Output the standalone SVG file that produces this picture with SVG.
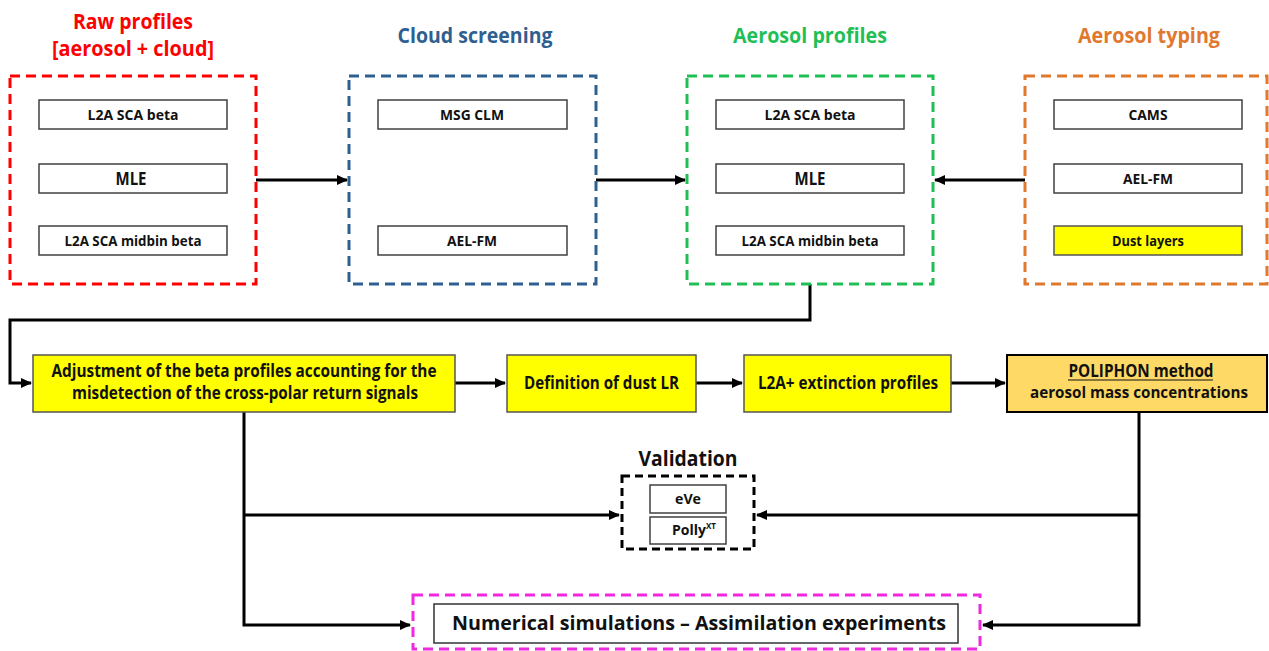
<svg xmlns="http://www.w3.org/2000/svg" width="1269" height="651" viewBox="0 0 1269 651">
<defs>
<style>
text{font-family:"Open Sans","Liberation Sans",sans-serif;font-weight:bold;text-anchor:middle;fill:#111}
.title{font-size:21px}
.inner{font-size:14px}
.big{font-size:17px}
.mid{font-size:17px}
.grp{fill:none;stroke-width:3;stroke-dasharray:10 6}
.ib{fill:#fff;stroke:#404040;stroke-width:1.5}
.yb{fill:#ffff00;stroke:#555;stroke-width:1.5}
.conn path{fill:none;stroke:#000;stroke-width:3}
</style>
<marker id="ah" markerUnits="userSpaceOnUse" markerWidth="12" markerHeight="10" refX="10" refY="5" orient="auto">
<path d="M0,0 L11,5 L0,10 z" fill="#000"/>
</marker>
</defs>
<rect width="1269" height="651" fill="#fff"/>

<g class="conn" id="connectors">
<path d="M256,180 H347" marker-end="url(#ah)"/>
<path d="M596,180 H685" marker-end="url(#ah)"/>
<path d="M1025,180 H935" marker-end="url(#ah)"/>
<path d="M810,284 V320 H10 V383 H31" marker-end="url(#ah)"/>
<path d="M455,383 H505" marker-end="url(#ah)"/>
<path d="M696,383 H742" marker-end="url(#ah)"/>
<path d="M951,383 H1005" marker-end="url(#ah)"/>
<path d="M244,412 V625 H410" marker-end="url(#ah)"/>
<path d="M244,515 H619" marker-end="url(#ah)"/>
<path d="M1139,412 V625 H983" marker-end="url(#ah)"/>
<path d="M1139,515 H757" marker-end="url(#ah)"/>
</g>

<g id="raw-profiles">
<text class="title" x="133" y="29" style="fill:#ff0000" textLength="120" lengthAdjust="spacingAndGlyphs">Raw profiles</text>
<text class="title" x="133" y="56" style="fill:#ff0000" textLength="162" lengthAdjust="spacingAndGlyphs">[aerosol + cloud]</text>
<rect class="grp" x="10" y="76" width="246" height="208" stroke="#ff0000"/>
<rect class="ib" x="39" y="100" width="188" height="29"/>
<text class="inner" x="133" y="120" textLength="91" lengthAdjust="spacingAndGlyphs">L2A SCA beta</text>
<rect class="ib" x="39" y="164" width="188" height="29"/>
<text class="big" x="131" y="185" textLength="31" lengthAdjust="spacingAndGlyphs">MLE</text>
<rect class="ib" x="39" y="226" width="188" height="29"/>
<text class="inner" x="133" y="246" textLength="137" lengthAdjust="spacingAndGlyphs">L2A SCA midbin beta</text>
</g>

<g id="cloud-screening">
<text class="title" x="475" y="43" style="fill:#2f5f8f" textLength="155" lengthAdjust="spacingAndGlyphs">Cloud screening</text>
<rect class="grp" x="349" y="76" width="247" height="208" stroke="#2f5f8f"/>
<rect class="ib" x="378" y="100" width="189" height="29"/>
<text class="inner" x="472" y="120" textLength="64" lengthAdjust="spacingAndGlyphs">MSG CLM</text>
<rect class="ib" x="378" y="226" width="189" height="29"/>
<text class="inner" x="472" y="246" textLength="50" lengthAdjust="spacingAndGlyphs">AEL-FM</text>
</g>

<g id="aerosol-profiles">
<text class="title" x="810" y="43" style="fill:#1fbf55" textLength="154" lengthAdjust="spacingAndGlyphs">Aerosol profiles</text>
<rect class="grp" x="687" y="76" width="246" height="208" stroke="#1fbf55"/>
<rect class="ib" x="716" y="100" width="188" height="29"/>
<text class="inner" x="810" y="120" textLength="91" lengthAdjust="spacingAndGlyphs">L2A SCA beta</text>
<rect class="ib" x="716" y="164" width="188" height="29"/>
<text class="big" x="810" y="185" textLength="31" lengthAdjust="spacingAndGlyphs">MLE</text>
<rect class="ib" x="716" y="226" width="188" height="29"/>
<text class="inner" x="810" y="246" textLength="137" lengthAdjust="spacingAndGlyphs">L2A SCA midbin beta</text>
</g>

<g id="aerosol-typing">
<text class="title" x="1149" y="43" style="fill:#e07830" textLength="142" lengthAdjust="spacingAndGlyphs">Aerosol typing</text>
<rect class="grp" x="1025" y="76" width="242" height="208" stroke="#e07830"/>
<rect class="ib" x="1054" y="100" width="188" height="29"/>
<text class="inner" x="1148" y="120" textLength="39" lengthAdjust="spacingAndGlyphs">CAMS</text>
<rect class="ib" x="1054" y="164" width="188" height="29"/>
<text class="inner" x="1148" y="184" textLength="50" lengthAdjust="spacingAndGlyphs">AEL-FM</text>
<rect class="yb" x="1054" y="226" width="188" height="29"/>
<text class="inner" x="1148" y="246" textLength="72" lengthAdjust="spacingAndGlyphs">Dust layers</text>
</g>

<g id="adjustment">
<rect class="yb" x="33" y="355" width="422" height="57"/>
<text class="mid" x="244" y="377" textLength="385" lengthAdjust="spacingAndGlyphs">Adjustment of the beta profiles accounting for the</text>
<text class="mid" x="245" y="399" textLength="346" lengthAdjust="spacingAndGlyphs">misdetection of the cross-polar return signals</text>
</g>

<g id="dust-lr">
<rect class="yb" x="507" y="355" width="189" height="57"/>
<text class="mid" x="601.5" y="389" textLength="155" lengthAdjust="spacingAndGlyphs">Definition of dust LR</text>
</g>

<g id="extinction">
<rect class="yb" x="744" y="355" width="207" height="57"/>
<text class="mid" x="848" y="389" textLength="180" lengthAdjust="spacingAndGlyphs">L2A+ extinction profiles</text>
</g>

<g id="poliphon">
<rect x="1007" y="355" width="260" height="57" fill="#ffd966" stroke="#000" stroke-width="2"/>
<text class="mid" x="1141" y="377" textLength="145" lengthAdjust="spacingAndGlyphs">POLIPHON method</text>
<line x1="1068" y1="380" x2="1213" y2="380" stroke="#111" stroke-width="1.2"/>
<text x="1139" y="398" style="font-size:15.5px" textLength="218" lengthAdjust="spacingAndGlyphs">aerosol mass concentrations</text>
</g>

<g id="validation">
<text class="title" x="688" y="466" textLength="99" lengthAdjust="spacingAndGlyphs">Validation</text>
<rect class="grp" x="622" y="476" width="132" height="73" stroke="#000" style="stroke-dasharray:8 5"/>
<rect class="ib" x="650" y="485" width="76" height="28"/>
<text class="inner" x="688" y="504" textLength="26" lengthAdjust="spacingAndGlyphs">eVe</text>
<rect class="ib" x="650" y="517" width="76" height="27"/>
<text class="inner" x="706" y="535" style="text-anchor:end" textLength="34" lengthAdjust="spacingAndGlyphs">Polly</text>
<text x="706" y="529" style="font-size:8px;text-anchor:start">XT</text>
</g>

<g id="numerical">
<rect class="grp" x="413" y="595" width="567" height="54" stroke="#f028e0"/>
<rect x="434" y="604" width="524" height="39" fill="#fff" stroke="#333" stroke-width="1.5"/>
<text x="699" y="630" style="font-size:19.5px" textLength="494" lengthAdjust="spacingAndGlyphs">Numerical simulations – Assimilation experiments</text>
</g>
</svg>
